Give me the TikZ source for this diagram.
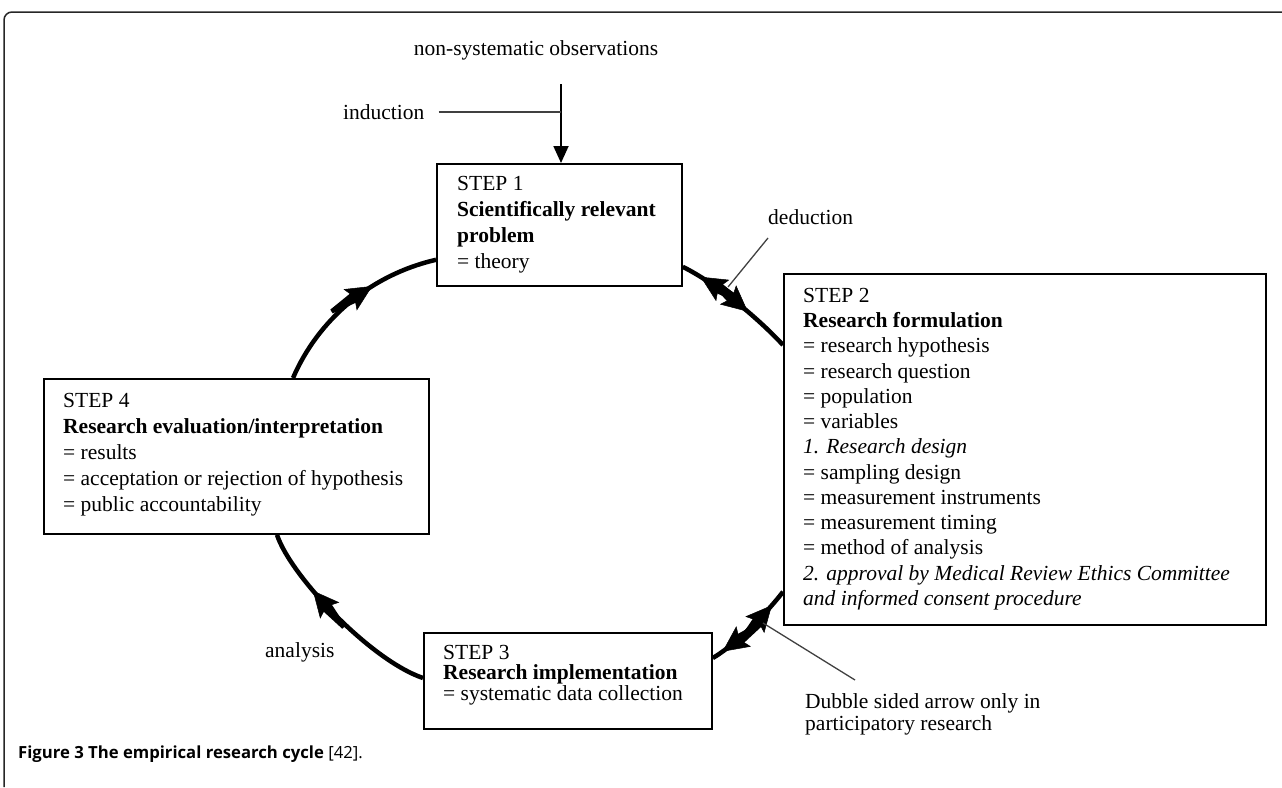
\documentclass[tikz,border=0pt]{standalone}
\usepackage{fontspec}
\setmainfont{Liberation Serif}
\newfontfamily\capfont{Open Sans}
\usetikzlibrary{arrows.meta,decorations.markings,calc}
\newcommand\tightlines{\lineskiplimit=-100pt\relax}
\begin{document}
\begin{tikzpicture}[x=1pt,y=-1pt,
  box/.style={draw=black, line width=1.8pt, anchor=north west, inner sep=0pt},
  txt/.style={anchor=north west, inner sep=0pt, align=left},
  lbl/.style={inner sep=0pt, font=\fontsize{21.5}{24}\selectfont},
  cyc/.style={line width=4.5pt},
  ptr/.style={draw=black!75, line width=1.3pt},
  tipf/.style={postaction={decorate,decoration={markings,mark=at position #1 with {\fill (-48pt,-2.25pt) -- (-18pt,-6pt) -- (-18pt,6pt) -- (-48pt,2.25pt) -- cycle; \arrow{Stealth[length=26pt,width=25pt,inset=5pt,line width=0.5pt]}}}}},
  tipr/.style={postaction={decorate,decoration={markings,mark=at position #1 with {\fill (48pt,-2.25pt) -- (18pt,-6pt) -- (18pt,6pt) -- (48pt,2.25pt) -- cycle; \arrowreversed{Stealth[length=26pt,width=25pt,inset=5pt,line width=0.5pt]}}}}},
]
\useasboundingbox (0,0) rectangle (1282,787);
% frame
\draw[line width=1.5pt, draw=black!85, rounded corners=8pt] (4,787) -- (4,12) -- (1282,12);

% boxes
\node[box, minimum width=245pt, minimum height=122pt] (s1) at (436,163) {};
\node[box, minimum width=482pt, minimum height=351pt] (s2) at (783,273) {};
\node[box, minimum width=288pt, minimum height=96pt]  (s3) at (423,632) {};
\node[box, minimum width=385pt, minimum height=155pt] (s4) at (43,378) {};

% box texts
\node[txt, font={\fontsize{21.5}{26}\selectfont\tightlines}] (t1) at (457,176)
  {STEP 1\\\textbf{Scientifically relevant}\\\textbf{problem}\\= theory};
\node[txt, font={\fontsize{21.5}{25.25}\selectfont\tightlines}] (t2) at (803,288)
  {STEP 2\\\textbf{Research formulation}\\= research hypothesis\\= research question\\= population\\= variables\\\textit{1. Research design}\\= sampling design\\= measurement instruments\\= measurement timing\\= method of analysis\\\textit{2. approval by Medical Review Ethics Committee}\\\textit{and informed consent procedure}};
\node[txt, font={\fontsize{21.5}{20.5}\selectfont\tightlines}] (t3) at (443,645)
  {STEP 3\\\textbf{Research implementation}\\= systematic data collection};
\node[txt, font={\fontsize{21.5}{26}\selectfont\tightlines}] (t4) at (63,393)
  {STEP 4\\\textbf{Research evaluation/interpretation}\\= results\\= acceptation or rejection of hypothesis\\= public accountability};

% labels
\node[lbl] (obs) at (536,50) {non-systematic observations};
\node[lbl, anchor=west] (ind) at (343,112) {induction};
\node[lbl, anchor=west] (ded) at (768,217) {deduction};
\node[lbl, anchor=west] (ana) at (265,652) {analysis};
\node[txt, font={\fontsize{21.5}{22}\selectfont\tightlines}] (note) at (805,693)
  {Dubble sided arrow only in\\participatory research};

% caption
\node[anchor=base west, inner sep=0pt, font={\capfont\fontsize{16.7}{19}\selectfont}] (cap) at (18,758)
  {\textbf{Figure 3 The empirical research cycle} [42].};

% observation arrow and induction line
\coordinate (obsarr) at (561,84);
\draw[line width=1.8pt, -{Triangle[length=17pt,width=15pt]}] (obsarr) -- (obsarr |- s1.north);
\draw[ptr, shorten <=14pt] (ind.east) -- (ind.east -| obsarr);

% cycle arcs
\draw[cyc, tipf=0.64] ($(s4.north west)+(250,0)$) .. controls (318,320) and (370,275) .. ($(s1.south west)+(0,-27)$);
\draw[cyc, tipr=0.16, tipf=0.62] ($(s1.south east)+(0,-20)$) .. controls (715,283) and (755,315) .. ($(s2.north west)+(0,72)$);
\draw[cyc, tipr=0.18, tipf=0.88] ($(s2.south west)+(0,-34)$) .. controls (765,615) and (735,645) .. ($(s3.north east)+(0,26)$);
\draw[cyc, tipf=0.68] ($(s3.north west)+(0,46)$) .. controls (370,660) and (290,575) .. ($(s4.south west)+(234,0)$);

% pointer lines
\coordinate (dedA) at (768,238);
\coordinate (dedB) at (728,287);
\draw[ptr] (dedA) -- (dedB);
\coordinate (dubA) at (763,623);
\coordinate (dubB) at (855,680);
\draw[ptr] (dubB) -- (dubA);
\end{tikzpicture}
\end{document}
